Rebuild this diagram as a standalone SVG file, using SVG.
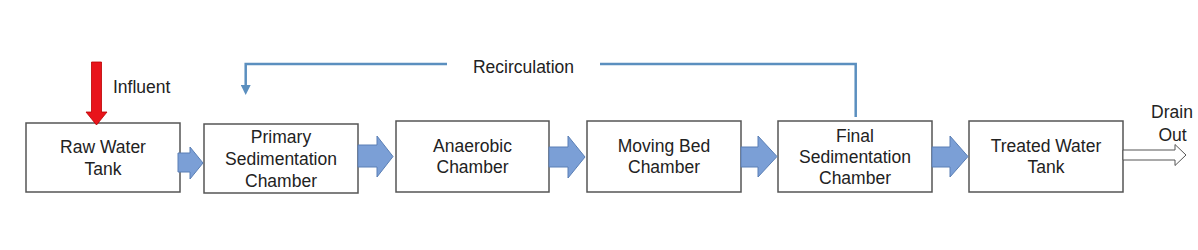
<svg xmlns="http://www.w3.org/2000/svg" width="1198" height="250" viewBox="0 0 1198 250">
<style>
.box{fill:#fff;stroke:#555;stroke-width:1.5}
text{font-family:"Liberation Sans",Arial,sans-serif;font-size:17.5px;fill:#222;text-anchor:middle}
.flow{fill:#7b9fd6;stroke:#5a7fb5;stroke-width:1}
.recirc{fill:none;stroke:#5b8fbf;stroke-width:2.5}
</style>
<defs>
<marker id="ah" viewBox="0 0 10 10" refX="5" refY="5" markerWidth="4" markerHeight="4" orient="auto" markerUnits="strokeWidth">
<path d="M0,0 L10,5 L0,10 z" fill="#5b8fbf"/>
</marker>
</defs>
<rect width="1198" height="250" fill="#fff"/>
<g id="raw-water-tank">
<rect class="box" x="26" y="123" width="154" height="69"/>
<text x="103" y="153">Raw Water</text>
<text x="103" y="175">Tank</text>
</g>
<g id="primary-sedimentation">
<rect class="box" x="204" y="124" width="154" height="69"/>
<text x="281" y="143">Primary</text>
<text x="281" y="165">Sedimentation</text>
<text x="281" y="186.5">Chamber</text>
</g>
<g id="anaerobic-chamber">
<rect class="box" x="396" y="121" width="153" height="71"/>
<text x="472.5" y="151.5">Anaerobic</text>
<text x="472.5" y="173">Chamber</text>
</g>
<g id="moving-bed-chamber">
<rect class="box" x="587" y="121" width="154" height="71"/>
<text x="664" y="151.5">Moving Bed</text>
<text x="664" y="173">Chamber</text>
</g>
<g id="final-sedimentation">
<rect class="box" x="778" y="121" width="154" height="71"/>
<text x="855" y="141.5">Final</text>
<text x="855" y="163">Sedimentation</text>
<text x="855" y="184">Chamber</text>
</g>
<g id="treated-water-tank">
<rect class="box" x="969" y="121" width="154" height="71"/>
<text x="1046" y="151.5">Treated Water</text>
<text x="1046" y="173">Tank</text>
</g>
<g id="connectors">
<g id="influent">
<path d="M91.5,62 L101.5,62 L101.5,112 L107,112 L96.5,125 L86,112 L91.5,112 z" fill="#e8141b" stroke="#b00" stroke-width="0.8"/>
<text x="113" y="93" style="text-anchor:start">Influent</text>
</g>
<path class="flow" d="M178,153 L190,153 L190,147 L203,163 L190,179 L190,172 L178,172 z"/>
<path class="flow" d="M358,145 L377,145 L377,136 L393,156.5 L377,177 L377,167 L358,167 z"/>
<path class="flow" d="M549,147 L568,147 L568,136 L585,157 L568,178 L568,167 L549,167 z"/>
<path class="flow" d="M741,147 L758,147 L758,136 L777,156.5 L758,177 L758,167 L741,167 z"/>
<path class="flow" d="M932,147 L950,147 L950,136 L968,156.5 L950,177 L950,167 L932,167 z"/>
<path d="M1123,150 L1175,150 L1175,144.5 L1186,155 L1175,165.5 L1175,160 L1123,160 z" fill="#fff" stroke="#555" stroke-width="1"/>
<text x="1172" y="118">Drain</text>
<text x="1172.5" y="140.5">Out</text>
<path class="recirc" d="M447,64 L245.7,64 L245.7,90" marker-end="url(#ah)"/>
<path class="recirc" d="M600,64 L855.7,64 L855.7,117"/>
<text x="523.5" y="73">Recirculation</text>
</g>
</svg>
